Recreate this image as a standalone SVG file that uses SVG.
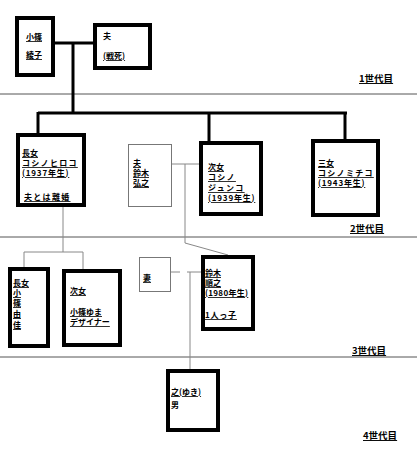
<svg xmlns="http://www.w3.org/2000/svg" width="417" height="450" viewBox="0 0 417 450">
<style>
.box{fill:#fff;stroke:#000;stroke-width:4}
.thin{fill:#fff;stroke:#777;stroke-width:1}
.gen{stroke:#555;stroke-width:1}
.thick{stroke:#000;stroke-width:3;fill:none}
.gray{stroke:#888;stroke-width:1;fill:none}
text{font-family:"Noto Sans CJK JP","Noto Sans",sans-serif;font-size:8px;font-weight:bold;fill:#000}
.u{text-decoration:underline}
.g{font-size:9.5px}
</style>
<rect width="417" height="450" fill="#fff"/>
<g id="generations">
<line class="gen" x1="0" y1="94" x2="417" y2="94"/>
<line class="gen" x1="0" y1="237" x2="417" y2="237"/>
<line class="gen" x1="0" y1="357" x2="417" y2="357"/>
<text class="u g" x="359" y="82">1世代目</text>
<text class="u g" x="350" y="232">2世代目</text>
<text class="u g" x="352" y="354">3世代目</text>
<text class="u g" x="363" y="439">4世代目</text>
</g>
<g id="connectors">
<line class="thick" x1="55" y1="43" x2="93" y2="43"/>
<line class="thick" x1="73" y1="43" x2="73" y2="113"/>
<line class="thick" x1="38" y1="113" x2="347" y2="113"/>
<line class="thick" x1="38" y1="112" x2="38" y2="133"/>
<line class="thick" x1="209" y1="113" x2="209" y2="141"/>
<line class="thick" x1="345" y1="112" x2="345" y2="139"/>
<line class="gray" x1="172" y1="164" x2="199" y2="164"/>
<polyline class="gray" points="185,164 185,243 228,255"/>
<line class="gray" x1="63" y1="207" x2="63" y2="252"/>
<line class="gray" x1="24" y1="252" x2="83" y2="252"/>
<line class="gray" x1="24" y1="252" x2="24" y2="267"/>
<line class="gray" x1="83" y1="252" x2="83" y2="269"/>
<line class="gray" x1="171" y1="272" x2="180" y2="272"/>
<line class="gray" x1="187" y1="272" x2="201" y2="272"/>
<line class="gray" x1="190" y1="272" x2="190" y2="369"/>
</g>
<g id="ayako">
<rect class="box" x="17" y="18" width="36" height="57"/>
<text class="u" x="26" y="40" font-size="8.5">小篠</text>
<text class="u" x="26" y="58" font-size="8.5">綾子</text>
</g>
<g id="husband1">
<rect class="box" x="95" y="25" width="55" height="43"/>
<text x="103" y="39" font-size="8.5">夫</text>
<text class="u" x="103" y="59" font-size="8.5">(戦死)</text>
</g>
<g id="hiroko">
<rect class="box" x="18" y="135" width="66" height="70"/>
<text class="u" x="22" y="156">長女</text>
<text class="u" x="22" y="166" letter-spacing="1.3">コシノヒロコ</text>
<text class="u" x="22" y="176" letter-spacing="0.8">(1937年生)</text>
<text class="u" x="24" y="200" letter-spacing="1.3">夫とは離婚</text>
</g>
<g id="hiroyuki">
<rect class="thin" x="128.5" y="144.5" width="43" height="62"/>
<text class="u" x="133" y="166">夫</text>
<text class="u" x="133" y="176">鈴木</text>
<text class="u" x="133" y="186">弘之</text>
</g>
<g id="junko">
<rect class="box" x="201" y="143" width="60" height="71"/>
<text class="u" x="208" y="170">次女</text>
<text class="u" x="208" y="180" letter-spacing="1.3">コシノ</text>
<text class="u" x="208" y="191" letter-spacing="1.3">ジュンコ</text>
<text class="u" x="208" y="201" letter-spacing="0.8">(1939年生)</text>
</g>
<g id="michiko">
<rect class="box" x="313" y="141" width="65" height="74"/>
<text class="u" x="318" y="166">三女</text>
<text class="u" x="318" y="176" letter-spacing="1.3">コシノミチコ</text>
<text class="u" x="318" y="186" letter-spacing="0.8">(1943年生)</text>
</g>
<g id="yuka">
<rect class="box" x="10" y="269" width="38" height="77"/>
<text class="u" x="13" y="286">長女</text>
<text class="u" x="13" y="296">小</text>
<text class="u" x="13" y="306">篠</text>
<text class="u" x="13" y="317">由</text>
<text class="u" x="13" y="328">佳</text>
</g>
<g id="yuma">
<rect class="box" x="64" y="271" width="56" height="74"/>
<text class="u" x="70" y="294">次女</text>
<text class="u" x="70" y="315">小篠ゆま</text>
<text class="u" x="70" y="325">デザイナー</text>
</g>
<g id="wife">
<rect class="thin" x="139.5" y="257.5" width="31" height="34"/>
<text class="u" x="143" y="281">妻</text>
</g>
<g id="masayuki">
<rect class="box" x="203" y="257" width="50" height="72"/>
<text class="u" x="205" y="276">鈴木</text>
<text class="u" x="205" y="286">順之</text>
<text class="u" x="205" y="296" letter-spacing="0.3">(1980年生)</text>
<text class="u" x="205" y="318" letter-spacing="0.8">1人っ子</text>
</g>
<g id="gen4">
<rect class="box" x="168" y="371" width="50" height="59"/>
<text class="u" x="171" y="395" font-size="8.5">之(ゆき)</text>
<text x="171" y="408" font-size="8.5">男</text>
</g>
</svg>
